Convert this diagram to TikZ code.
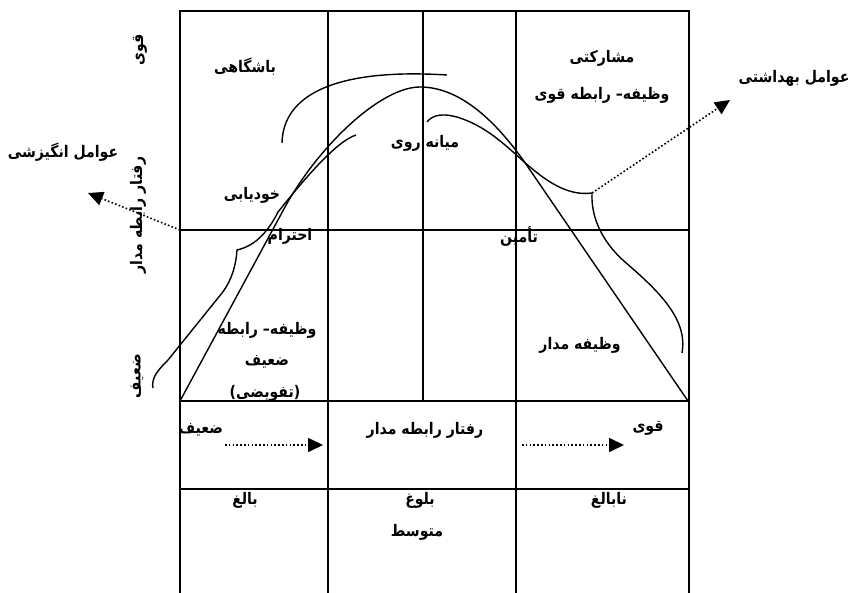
\documentclass[tikz,border=0pt]{standalone}
\usepackage{fontspec}
\newfontfamily\fa[Script=Arabic]{DejaVu Sans}
\TeXXeTstate=1
\usetikzlibrary{arrows.meta}
\newcommand\rtl[1]{\scalebox{0.88}[1]{\beginR#1\endR}}
\tikzset{
  gridline/.style={line width=1.6pt},
  curveline/.style={line width=1.4pt},
  lbl/.style={font=\fa\bfseries\fontsize{16}{19}\selectfont, inner sep=0pt},
  vlbl/.style={lbl, rotate=90},
  dotarrow/.style={line width=1.6pt, dash pattern=on 1.6pt off 2.2pt,
    -{Triangle[length=15pt,width=14pt]}}
}
\begin{document}
\begin{tikzpicture}[x=1pt,y=-1pt]
\useasboundingbox (0,0) rectangle (850,593);
\fill[white] (0,0) rectangle (850,593);
% grid
\draw[gridline] (180,593) -- (180,11) -- (689,11) -- (689,593);
\draw[gridline] (328,11) -- (328,593);
\draw[gridline] (516,11) -- (516,593);
\draw[gridline] (423,11) -- (423,401);
\draw[gridline] (180,230) -- (689,230);
\draw[gridline] (180,401) -- (689,401);
\draw[gridline] (180,489) -- (689,489);
% main bell curve
\draw[curveline] (180,401) -- (285,207) .. controls (318,147) and (380,87) .. (420,87)
  .. controls (465,87) and (503,130) .. (530,170) -- (688,401);
% upper arc
\draw[curveline] (282,143) .. controls (283,95) and (335,68) .. (447,75);
% left brace
\draw[curveline] (153,388) .. controls (151,378) and (158,370) .. (168,360) -- (222,293)
  .. controls (232,280) and (236,265) .. (237,250)
  .. controls (255,246) and (268,232) .. (278,212)
  .. controls (302,182) and (335,142) .. (356,135);
% right brace
\draw[curveline] (427,122) .. controls (433,114) and (445,113) .. (460,118)
  .. controls (490,128) and (510,150) .. (530,167)
  .. controls (550,184) and (570,196) .. (592,193)
  .. controls (591,215) and (600,240) .. (625,262)
  .. controls (660,292) and (688,320) .. (682,353);
% arrow end points
\coordinate (rc) at (592,193);
\coordinate (rt) at (730,100);
\coordinate (lc) at (180,230);
\coordinate (lt) at (88,193);
\coordinate (b1s) at (225,445);
\coordinate (b1t) at (323,445);
\coordinate (b2s) at (522,445);
\coordinate (b2t) at (624,445);
\draw[dotarrow] (rc) -- (rt);
\draw[dotarrow] (lc) -- (lt);
\draw[dotarrow] (b1s) -- (b1t);
\draw[dotarrow] (b2s) -- (b2t);
% labels
\node[lbl] (bashgahi) at (245,67) {\rtl{باشگاهی}};
\node[lbl] (mosharekati) at (602,58) {\rtl{مشارکتی}};
\node[lbl] (vazifeghavi) at (602,95) {\rtl{وظیفه– رابطه قوی}};
\node[lbl] (behdashti) at (794,78) {\rtl{عوامل بهداشتی}};
\node[lbl] (angizeshi) at (63,152) {\rtl{عوامل انگیزشی}};
\node[lbl] (miane) at (425,143) {\rtl{میانه روی}};
\node[lbl] (khodyabi) at (252,195) {\rtl{خودیابی}};
\node[lbl] (ehteram) at (290,236) {\rtl{احترام}};
\node[lbl] (tamin) at (519,237) {\rtl{تأمین}};
\node[lbl] (vr1) at (267,330) {\rtl{وظیفه– رابطه}};
\node[lbl] (vr2) at (267,362) {\rtl{ضعیف}};
\node[lbl] (vr3) at (265,393) {\rtl{(تفویضی)}};
\node[lbl] (vmadar) at (580,345) {\rtl{وظیفه مدار}};
\node[lbl] (zaif) at (201,430) {\rtl{ضعیف}};
\node[lbl] (raftar) at (425,430) {\rtl{رفتار رابطه مدار}};
\node[lbl] (ghavi) at (648,428) {\rtl{قوی}};
\node[lbl] (baleg) at (245,500) {\rtl{بالغ}};
\node[lbl] (bolugh) at (420,500) {\rtl{بلوغ}};
\node[lbl] (motevaset) at (417,532) {\rtl{متوسط}};
\node[lbl] (nabaleg) at (609,500) {\rtl{نابالغ}};
\node[vlbl] (vghavi) at (140,50) {\rtl{قوی}};
\node[vlbl] (vraftar) at (138,215) {\rtl{رفتار رابطه مدار}};
\node[vlbl] (vzaif) at (137,376) {\rtl{ضعیف}};
\end{tikzpicture}
\end{document}
